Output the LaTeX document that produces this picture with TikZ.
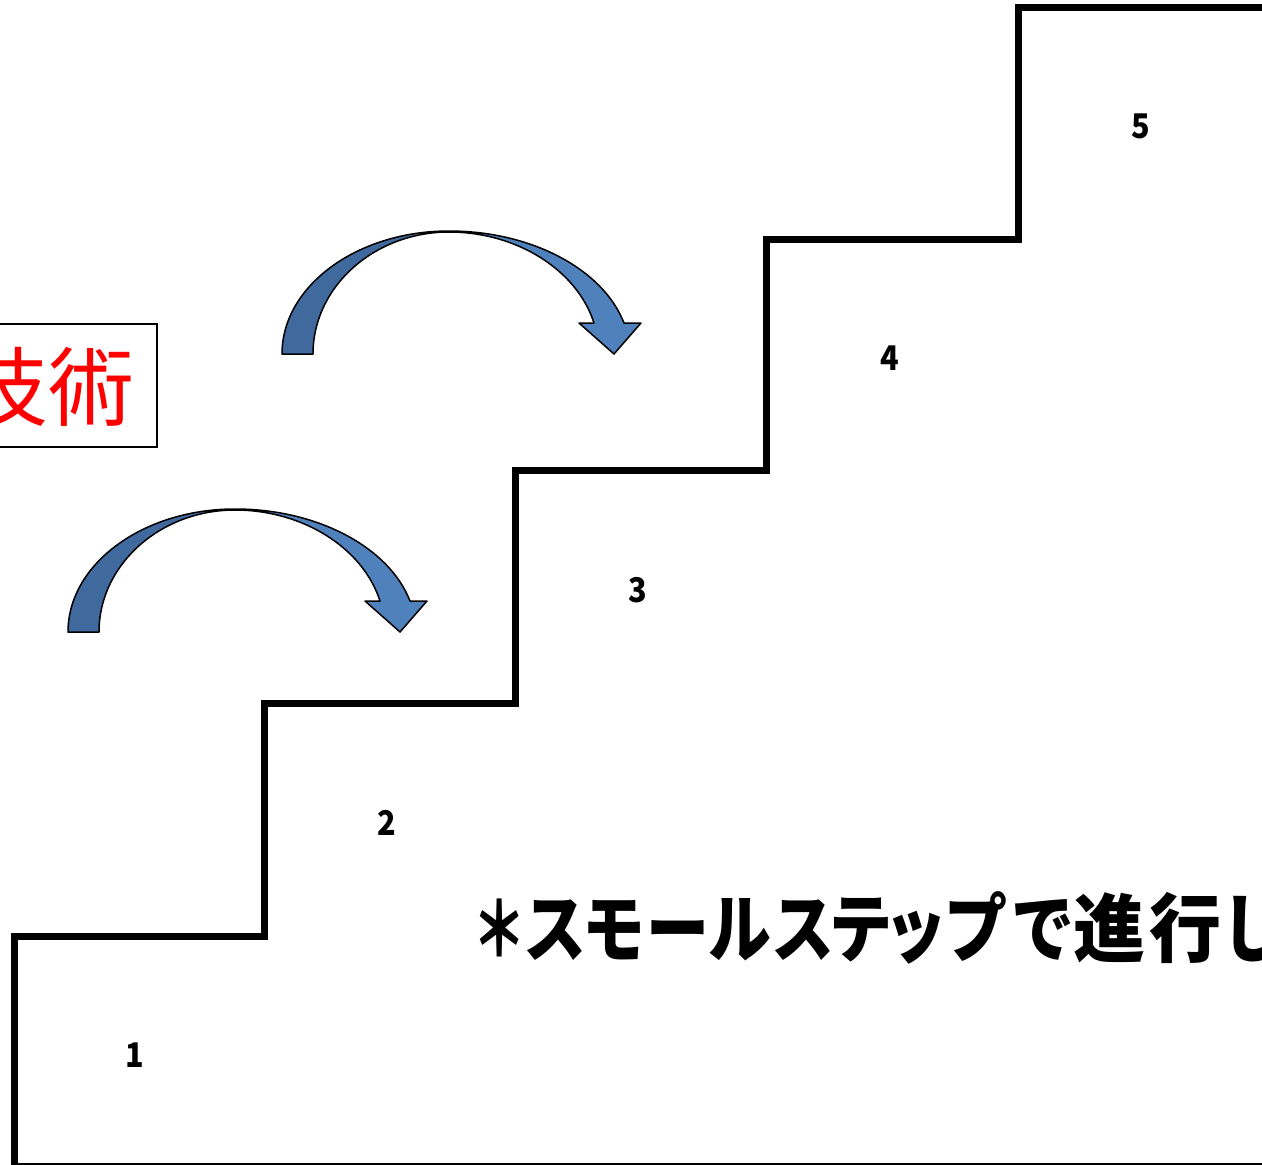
\documentclass[tikz,border=0pt]{standalone}
\usepackage{fontspec}
\newfontfamily\jpfull{Noto Sans CJK JP}
\definecolor{arrowdark}{HTML}{40699D}
\definecolor{arrowlight}{HTML}{4F81BD}
\tikzset{
  stairline/.style={line width=7pt, line join=miter, line cap=rect},
  baseline line/.style={line width=2pt},
  arrowline/.style={line width=1.5pt, line join=round},
  steplabel/.style={font=\jpfull\bfseries\fontsize{34}{36}\selectfont, inner sep=0pt},
  capchar/.style={font=\jpfull\bfseries\fontsize{75}{78}\selectfont, inner sep=0pt, anchor=base},
}
\newcommand\bluearrow{%
  \fill[arrowdark] (68,632) .. controls (68,564) and (143,509) .. (235,509)
     .. controls (160,510) and (99,565) .. (99,632) -- cycle;
  \fill[arrowlight] (235,509) .. controls (317,509) and (389,547) .. (410,601)
     -- (427,601) -- (400,632) -- (365,601) -- (380,601)
     .. controls (363,548) and (303,510) .. (235,510) -- cycle;
  \draw[arrowline] (68,632) .. controls (68,564) and (143,509) .. (235,509)
     .. controls (317,509) and (389,547) .. (410,601)
     -- (427,601) -- (400,632) -- (365,601) -- (380,601)
     .. controls (363,548) and (303,510) .. (235,510)
     .. controls (160,510) and (99,565) .. (99,632) -- cycle;
}
\begin{document}
\begin{tikzpicture}[x=1pt,y=-1pt]
\useasboundingbox (0,0) rectangle (1262,1165);
\clip (0,0) rectangle (1262,1165);
\fill[white] (0,0) rectangle (1262,1165);

% staircase
\draw[stairline] (14,1166) -- (14,936) -- (264,936) -- (264,703) -- (515,703)
  -- (515,470) -- (766,470) -- (766,239) -- (1018,239) -- (1018,7) -- (1275,7);
\draw[baseline line] (14,1163.5) -- (1265,1163.5);

% step numbers
\node[steplabel] (n1) at (135,1055) {\scalebox{0.9}[1]{1}};
\node[steplabel] (n2) at (387,823) {\scalebox{0.9}[1]{2}};
\node[steplabel] (n3) at (638,590) {\scalebox{0.9}[1]{3}};
\node[steplabel] (n4) at (890,358) {\scalebox{0.9}[1]{4}};
\node[steplabel] (n5) at (1141,126) {\scalebox{0.9}[1]{5}};

% curved arrows
\bluearrow
\begin{scope}[shift={(214,-278)}]
\bluearrow
\end{scope}

% box with red text
\draw[line width=1.5pt, fill=white] (-20,324) rectangle (157,447);
\node[anchor=base west, inner sep=0pt, text=red,
      font=\jpfull\fontsize{86}{90}\selectfont] (gijutsu) at (-38,419) {技術};

% main caption (proportionally spaced, cut at the right edge as in the original)
\foreach \ch/\cx/\sx [count=\i] in {＊/499/0.72, ス/555/0.84, モ/614/0.84, ー/678/0.84,
    ル/740/0.84, ス/803/0.84, テ/861/0.84, ッ/916/0.84, プ/976/0.84, で/1043/0.84,
    進/1109/0.96, 行/1185/0.96, し/1254/0.9}
  \node[capchar] (c\i) at (\cx,956) {\scalebox{\sx}[1]{\ch}};
\end{tikzpicture}
\end{document}
